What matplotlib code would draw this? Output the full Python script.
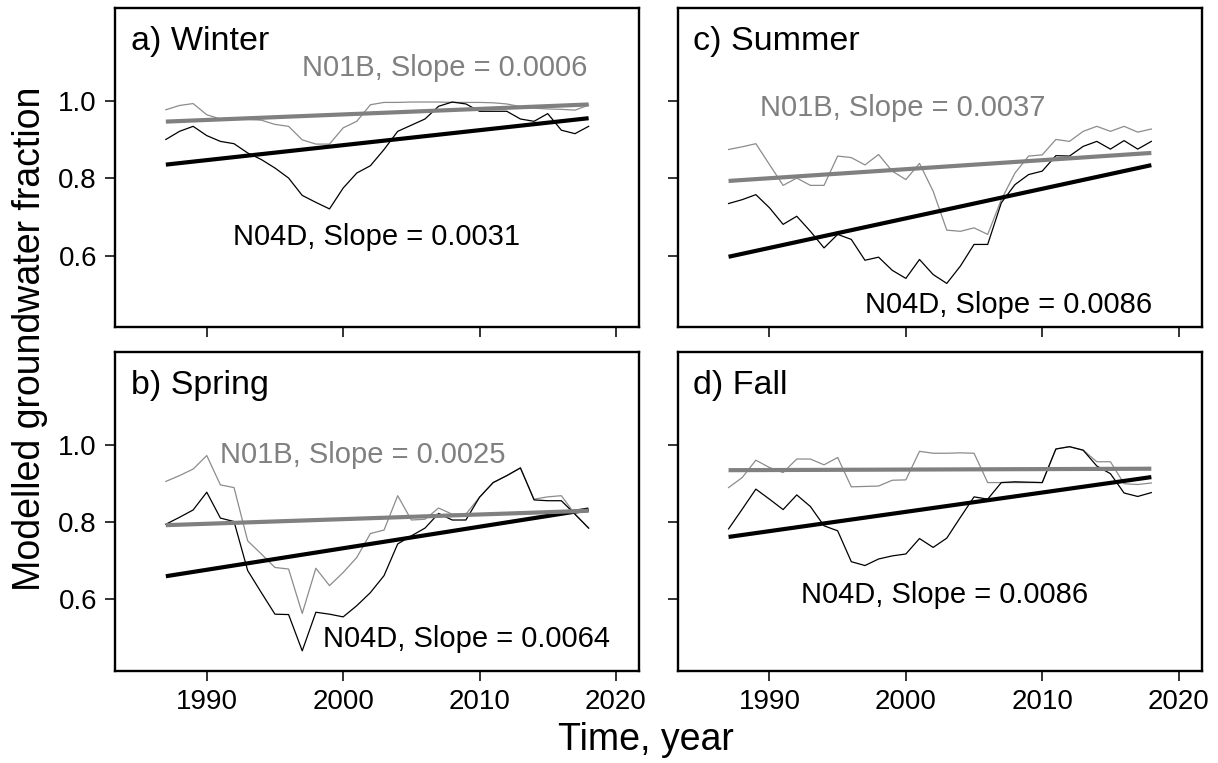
import matplotlib
matplotlib.use("Agg")
import matplotlib.pyplot as plt
import numpy as np

plt.rcParams['font.family'] = ['Liberation Sans', 'DejaVu Sans']

years = list(range(1987, 2019))

winter_n01b = [0.978, 0.989, 0.994, 0.965, 0.954, 0.953, 0.953, 0.951, 0.940, 0.935,
               0.900, 0.889, 0.889, 0.931, 0.948, 0.991, 0.997, 0.997, 0.998, 0.998,
               0.998, 0.997, 0.997, 0.997, 0.996, 0.993, 0.986, 0.982, 0.980, 0.979,
               0.977, 0.990]
winter_n04d = [0.901, 0.922, 0.935, 0.911, 0.896, 0.890, 0.866, 0.849, 0.827, 0.801,
               0.756, 0.738, 0.721, 0.775, 0.814, 0.833, 0.875, 0.922, 0.938, 0.954,
               0.987, 0.998, 0.993, 0.974, 0.974, 0.974, 0.954, 0.948, 0.968, 0.925,
               0.916, 0.935]

spring_n01b = [0.905, 0.920, 0.937, 0.972, 0.896, 0.889, 0.751, 0.717, 0.682, 0.678,
               0.563, 0.680, 0.635, 0.669, 0.708, 0.770, 0.779, 0.868, 0.805, 0.807,
               0.836, 0.820, 0.820, 0.864, 0.902, 0.920, 0.940, 0.859, 0.865, 0.868,
               0.820, 0.784]
spring_n04d = [0.794, 0.812, 0.831, 0.877, 0.810, 0.801, 0.674, 0.617, 0.561, 0.560,
               0.466, 0.566, 0.561, 0.554, 0.583, 0.617, 0.661, 0.743, 0.764, 0.784,
               0.822, 0.805, 0.805, 0.864, 0.902, 0.920, 0.940, 0.857, 0.855, 0.855,
               0.820, 0.784]

summer_n01b = [0.875, 0.882, 0.890, 0.836, 0.782, 0.801, 0.782, 0.782, 0.858, 0.854,
               0.835, 0.862, 0.819, 0.797, 0.839, 0.767, 0.666, 0.663, 0.672, 0.655,
               0.745, 0.814, 0.858, 0.861, 0.901, 0.896, 0.922, 0.935, 0.922, 0.935,
               0.920, 0.928]
summer_n04d = [0.735, 0.745, 0.758, 0.724, 0.681, 0.702, 0.663, 0.620, 0.655, 0.642,
               0.588, 0.596, 0.562, 0.541, 0.590, 0.551, 0.528, 0.573, 0.629, 0.629,
               0.737, 0.784, 0.810, 0.819, 0.859, 0.858, 0.883, 0.896, 0.876, 0.898,
               0.876, 0.896]

fall_n01b = [0.889, 0.915, 0.960, 0.941, 0.928, 0.963, 0.963, 0.948, 0.967, 0.891,
             0.892, 0.893, 0.908, 0.909, 0.983, 0.978, 0.978, 0.979, 0.978, 0.902,
             0.902, 0.902, 0.902, 0.902, 0.989, 0.995, 0.986, 0.956, 0.956, 0.899,
             0.897, 0.901]
fall_n04d = [0.782, 0.833, 0.885, 0.859, 0.832, 0.870, 0.840, 0.790, 0.777, 0.697,
             0.687, 0.704, 0.712, 0.717, 0.757, 0.734, 0.758, 0.812, 0.865, 0.859,
             0.902, 0.904, 0.903, 0.902, 0.989, 0.995, 0.986, 0.945, 0.925, 0.875,
             0.866, 0.876]

panel_titles = ['a) Winter', 'b) Spring', 'c) Summer', 'd) Fall']
n01b_labels = ['N01B, Slope = 0.0006', 'N01B, Slope = 0.0025', 'N01B, Slope = 0.0037', None]
n04d_labels = ['N04D, Slope = 0.0031', 'N04D, Slope = 0.0064', 'N04D, Slope = 0.0086',
               'N04D, Slope = 0.0086']

GREY = '#808080'


def plot_panel(ax, n01b, n04d, title, lab_grey, lab_black, grey_pos, black_pos):
    yrs = np.array(years)
    ax.plot(yrs, n01b, color='#8c8c8c', lw=0.9)
    ax.plot(yrs, n04d, color='black', lw=0.9)

    # linear trend for each station
    fit_black = np.polyfit(yrs, n04d, 1)
    fit_grey = np.polyfit(yrs, n01b, 1)
    ax.plot(yrs, np.polyval(fit_black, yrs), color='black', lw=3.0, solid_capstyle='butt')
    ax.plot(yrs, np.polyval(fit_grey, yrs), color=GREY, lw=3.0, solid_capstyle='butt')

    ax.text(0.03, 0.895, title, transform=ax.transAxes, fontsize=24.5,
            ha='left', va='center')
    if lab_grey:
        ax.text(grey_pos[0], grey_pos[1], lab_grey, transform=ax.transAxes,
                fontsize=21, color=GREY, ha='center', va='center')
    ax.text(black_pos[0], black_pos[1], lab_black, transform=ax.transAxes,
            fontsize=21, color='black', ha='center', va='center')

    ax.set_xlim(1983.27, 2021.7)
    ax.set_ylim(0.415, 1.241)
    ax.set_xticks([1990, 2000, 2010, 2020])
    ax.set_yticks([0.6, 0.8, 1.0])
    ax.tick_params(direction='out', length=7, width=1.4, color='#333333',
                   labelsize=20, pad=6)
    for sp in ax.spines.values():
        sp.set_linewidth(1.7)


fig = plt.figure(figsize=(12.18, 7.63), dpi=100)

left_x, right_x, width = 0.0944, 0.5564, 0.4303
top_y, bottom_y, height = 0.5714, 0.1212, 0.4178

ax_a = fig.add_axes([left_x, top_y, width, height])
ax_b = fig.add_axes([left_x, bottom_y, width, height])
ax_c = fig.add_axes([right_x, top_y, width, height])
ax_d = fig.add_axes([right_x, bottom_y, width, height])

plot_panel(ax_a, winter_n01b, winter_n04d, panel_titles[0], n01b_labels[0], n04d_labels[0],
           (0.629, 0.811), (0.499, 0.283))
plot_panel(ax_b, spring_n01b, spring_n04d, panel_titles[1], n01b_labels[1], n04d_labels[1],
           (0.472, 0.676), (0.67, 0.10))
plot_panel(ax_c, summer_n01b, summer_n04d, panel_titles[2], n01b_labels[2], n04d_labels[2],
           (0.429, 0.686), (0.632, 0.069))
plot_panel(ax_d, fall_n01b, fall_n04d, panel_titles[3], n01b_labels[3], n04d_labels[3],
           None, (0.51, 0.236))

ax_a.tick_params(labelbottom=False)
ax_c.tick_params(labelbottom=False, labelleft=False)
ax_d.tick_params(labelleft=False)

fig.text(0.025, 0.556, 'Modelled groundwater fraction', rotation=90,
         fontsize=27, ha='center', va='center')
fig.text(0.53, 0.03, 'Time, year', fontsize=27, ha='center', va='center')

fig.savefig('out.png', dpi=100)
